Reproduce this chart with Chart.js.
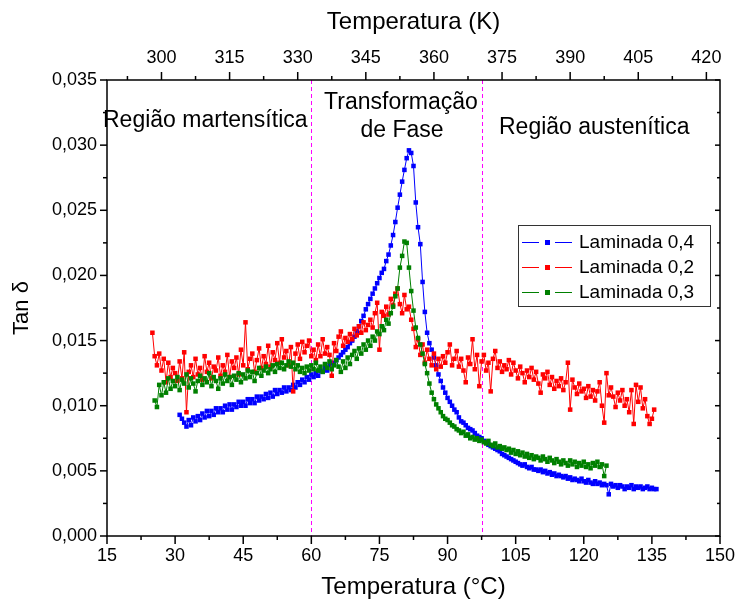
<!DOCTYPE html>
<html>
<head>
<meta charset="utf-8">
<script src="https://cdn.jsdelivr.net/npm/chart.js@4.4.1/dist/chart.umd.min.js"></script>
<style>
  html, body { margin: 0; padding: 0; background: #fff; }
  #wrap { width: 735px; height: 606px; }
</style>
</head>
<body>
<div id="wrap"><canvas id="chart"></canvas></div>
<script>
// temperature (°C) of each reading
const tempC = [
  25, 25.5, 26, 26.5, 27, 27.5, 28, 28.5, 29, 29.5,
  30, 30.5, 31, 31.5, 32, 32.5, 33, 33.5, 34, 34.5,
  35, 35.5, 36, 36.5, 37, 37.5, 38, 38.5, 39, 39.5,
  40, 40.5, 41, 41.5, 42, 42.5, 43, 43.5, 44, 44.5,
  45, 45.5, 46, 46.5, 47, 47.5, 48, 48.5, 49, 49.5,
  50, 50.5, 51, 51.5, 52, 52.5, 53, 53.5, 54, 54.5,
  55, 55.5, 56, 56.5, 57, 57.5, 58, 58.5, 59, 59.5,
  60, 60.5, 61, 61.5, 62, 62.5, 63, 63.5, 64, 64.5,
  65, 65.5, 66, 66.5, 67, 67.5, 68, 68.5, 69, 69.5,
  70, 70.5, 71, 71.5, 72, 72.5, 73, 73.5, 74, 74.5,
  75, 75.5, 76, 76.5, 77, 77.5, 78, 78.5, 79, 79.5,
  80, 80.5, 81, 81.5, 82, 82.5, 83, 83.5, 84, 84.5,
  85, 85.5, 86, 86.5, 87, 87.5, 88, 88.5, 89, 89.5,
  90, 90.5, 91, 91.5, 92, 92.5, 93, 93.5, 94, 94.5,
  95, 95.5, 96, 96.5, 97, 97.5, 98, 98.5, 99, 99.5,
  100, 100.5, 101, 101.5, 102, 102.5, 103, 103.5, 104, 104.5,
  105, 105.5, 106, 106.5, 107, 107.5, 108, 108.5, 109, 109.5,
  110, 110.5, 111, 111.5, 112, 112.5, 113, 113.5, 114, 114.5,
  115, 115.5, 116, 116.5, 117, 117.5, 118, 118.5, 119, 119.5,
  120, 120.5, 121, 121.5, 122, 122.5, 123, 123.5, 124, 124.5,
  125, 125.5, 126, 126.5, 127, 127.5, 128, 128.5, 129, 129.5,
  130, 130.5, 131, 131.5, 132, 132.5, 133, 133.5, 134, 134.5,
  135, 135.5, 136
];

// Laminada 0,4 (blue)
const tanL04 = [
  null, null, null, null, null, null, null, null, null, null,
  null, null, 0.0093, 0.0090, 0.0087, 0.0084, 0.0089, 0.0085, 0.0091, 0.0088,
  0.0092, 0.0089, 0.0094, 0.0091, 0.0096, 0.0092, 0.0096, 0.0093, 0.0098, 0.0095,
  0.0098, 0.0095, 0.0100, 0.0097, 0.0101, 0.0097, 0.0101, 0.0099, 0.0103, 0.0100,
  0.0103, 0.0100, 0.0105, 0.0102, 0.0105, 0.0102, 0.0107, 0.0104, 0.0107, 0.0105,
  0.0109, 0.0106, 0.0110, 0.0107, 0.0112, 0.0109, 0.0112, 0.0110, 0.0114, 0.0111,
  0.0114, 0.0112, 0.0116, 0.0114, 0.0118, 0.0116, 0.0120, 0.0118, 0.0122, 0.0120,
  0.0124, 0.0122, 0.0125, 0.0123, 0.0127, 0.0126, 0.0129, 0.0127, 0.0131, 0.0133,
  0.0132, 0.0135, 0.0137, 0.0139, 0.0141, 0.0143, 0.0145, 0.0148, 0.0150, 0.0153,
  0.0157, 0.0161, 0.0165, 0.0169, 0.0174, 0.0178, 0.0182, 0.0186, 0.0190, 0.0194,
  0.0198, 0.0202, 0.0205, 0.0211, 0.0216, 0.0223, 0.0231, 0.0241, 0.0252, 0.0262,
  0.0272, 0.0281, 0.0290, 0.0296, 0.0294, 0.0284, 0.0256, 0.0237, 0.0224, 0.0195,
  0.0172, 0.0156, 0.0148, 0.0143, 0.0137, 0.0131, 0.0124, 0.0119, 0.0114, 0.0110,
  0.0106, 0.0103, 0.0100, 0.0097, 0.0095, 0.0091, 0.0088, 0.0087, 0.0085, 0.0083,
  0.0082, 0.0081, 0.0079, 0.0077, 0.0076, 0.0075, 0.0073, 0.0072, 0.0070, 0.0069,
  0.0068, 0.0067, 0.0066, 0.0065, 0.0063, 0.0062, 0.0061, 0.0060, 0.0059, 0.0058,
  0.0057, 0.0056, 0.0055, 0.0054, 0.0055, 0.0053, 0.0052, 0.0053, 0.0051, 0.0051,
  0.0050, 0.0051, 0.0049, 0.0050, 0.0048, 0.0049, 0.0047, 0.0048, 0.0046, 0.0047,
  0.0046, 0.0045, 0.0046, 0.0044, 0.0045, 0.0043, 0.0044, 0.0043, 0.0042, 0.0044,
  0.0042, 0.0041, 0.0043, 0.0041, 0.0040, 0.0042, 0.0040, 0.0041, 0.0039, 0.0040,
  0.0039, 0.0032, 0.0040, 0.0038, 0.0039, 0.0037, 0.0039, 0.0038, 0.0036, 0.0038,
  0.0037, 0.0039, 0.0036, 0.0038, 0.0037, 0.0038, 0.0036, 0.0037, 0.0038, 0.0036,
  0.0037, 0.0036, 0.0036
];

// Laminada 0,2 (red)
const tanL02 = [
  0.0156, 0.0138, 0.0131, 0.0140, 0.0127, 0.0136, 0.0118, 0.0133, 0.0122, 0.0129,
  0.0125, 0.0119, 0.0134, 0.0121, 0.0141, 0.0095, 0.0126, 0.0131, 0.0122, 0.0136,
  0.0124, 0.0129, 0.0120, 0.0138, 0.0126, 0.0133, 0.0121, 0.0130, 0.0127, 0.0137,
  0.0123, 0.0131, 0.0126, 0.0139, 0.0122, 0.0134, 0.0129, 0.0137, 0.0124, 0.0143,
  0.0131, 0.0164, 0.0128, 0.0136, 0.0140, 0.0126, 0.0135, 0.0144, 0.0129, 0.0138,
  0.0132, 0.0146, 0.0130, 0.0141, 0.0135, 0.0148, 0.0133, 0.0151, 0.0137, 0.0142,
  0.0131, 0.0145, 0.0111, 0.0140, 0.0147, 0.0136, 0.0149, 0.0141, 0.0146, 0.0150,
  0.0138, 0.0143, 0.0135, 0.0147, 0.0138, 0.0151, 0.0140, 0.0145, 0.0139, 0.0123,
  0.0148, 0.0142, 0.0153, 0.0157, 0.0146, 0.0152, 0.0149, 0.0155, 0.0151, 0.0159,
  0.0154, 0.0161, 0.0156, 0.0164, 0.0158, 0.0162, 0.0166, 0.0160, 0.0171, 0.0179,
  0.0143, 0.0172, 0.0169, 0.0176, 0.0170, 0.0182, 0.0177, 0.0186, 0.0190, 0.0178,
  0.0171, 0.0185, 0.0174, 0.0176, 0.0166, 0.0159, 0.0145, 0.0151, 0.0139, 0.0147,
  0.0133, 0.0143, 0.0136, 0.0131, 0.0140, 0.0128, 0.0136, 0.0130, 0.0138, 0.0133,
  0.0141, 0.0147, 0.0131, 0.0136, 0.0142, 0.0130, 0.0136, 0.0127, 0.0118, 0.0137,
  0.0132, 0.0151, 0.0128, 0.0139, 0.0115, 0.0134, 0.0139, 0.0127, 0.0133, 0.0111,
  0.0136, 0.0142, 0.0129, 0.0134, 0.0126, 0.0131, 0.0128, 0.0135, 0.0124, 0.0133,
  0.0127, 0.0121, 0.0130, 0.0125, 0.0118, 0.0127, 0.0122, 0.0129, 0.0120, 0.0126,
  0.0117, 0.0110, 0.0124, 0.0121, 0.0126, 0.0116, 0.0122, 0.0113, 0.0119, 0.0115,
  0.0121, 0.0112, 0.0118, 0.0133, 0.0097, 0.0120, 0.0114, 0.0109, 0.0117, 0.0111,
  0.0113, 0.0106, 0.0115, 0.0107, 0.0112, 0.0104, 0.0111, 0.0118, 0.0100, 0.0087,
  0.0125, 0.0108, 0.0114, 0.0107, 0.0099, 0.0110, 0.0104, 0.0112, 0.0100, 0.0105,
  0.0095, 0.0112, 0.0086, 0.0116, 0.0103, 0.0114, 0.0098, 0.0105, 0.0092, 0.0086,
  0.0090, 0.0097, null
];

// Laminada 0,3 (green)
const tanL03 = [
  null, 0.0104, 0.0099, 0.0116, 0.0108, 0.0118, 0.0110, 0.0121, 0.0113, 0.0119,
  0.0115, 0.0122, 0.0112, 0.0120, 0.0117, 0.0124, 0.0114, 0.0121, 0.0117, 0.0111,
  0.0119, 0.0123, 0.0116, 0.0121, 0.0118, 0.0125, 0.0115, 0.0122, 0.0119, 0.0113,
  0.0121, 0.0117, 0.0124, 0.0119, 0.0122, 0.0116, 0.0123, 0.0120, 0.0125, 0.0118,
  0.0124, 0.0121, 0.0127, 0.0122, 0.0126, 0.0119, 0.0125, 0.0129, 0.0123, 0.0127,
  0.0130, 0.0125, 0.0128, 0.0131, 0.0126, 0.0132, 0.0129, 0.0133, 0.0128, 0.0131,
  0.0134, 0.0130, 0.0133, 0.0128, 0.0131, 0.0126, 0.0129, 0.0125, 0.0130, 0.0127,
  0.0131, 0.0128, 0.0133, 0.0127, 0.0130, 0.0126, 0.0132, 0.0129, 0.0134, 0.0128,
  0.0131, 0.0135, 0.0130, 0.0126, 0.0134, 0.0129, 0.0137, 0.0132, 0.0139, 0.0142,
  0.0136, 0.0144, 0.0140, 0.0147, 0.0143, 0.0150, 0.0146, 0.0153, 0.0150, 0.0157,
  0.0155, 0.0161, 0.0158, 0.0166, 0.0163, 0.0171, 0.0176, 0.0184, 0.0190, 0.0206,
  0.0215, 0.0226, 0.0225, 0.0206, 0.0188, 0.0173, 0.0160, 0.0152, 0.0147, 0.0140,
  0.0132, 0.0125, 0.0117, 0.0110, 0.0105, 0.0101, 0.0098, 0.0095, 0.0092, 0.0090,
  0.0089, 0.0087, 0.0085, 0.0084, 0.0082, 0.0081, 0.0079, 0.0080, 0.0077, 0.0078,
  0.0075, 0.0076, 0.0074, 0.0075, 0.0073, 0.0074, 0.0072, 0.0071, 0.0073, 0.0070,
  0.0069, 0.0071, 0.0068, 0.0069, 0.0067, 0.0068, 0.0066, 0.0067, 0.0064, 0.0066,
  0.0063, 0.0065, 0.0062, 0.0064, 0.0061, 0.0063, 0.0060, 0.0062, 0.0059, 0.0061,
  0.0060, 0.0058, 0.0061, 0.0059, 0.0057, 0.0060, 0.0058, 0.0056, 0.0059, 0.0057,
  0.0055, 0.0058, 0.0056, 0.0054, 0.0058, 0.0055, 0.0057, 0.0053, 0.0056, 0.0054,
  0.0057, 0.0053, 0.0055, 0.0052, 0.0056, 0.0054, 0.0057, 0.0053, 0.0055, 0.0046,
  0.0054, null, null, null, null, null, null, null, null, null,
  null, null, null, null, null, null, null, null, null, null,
  null, null, null
];

const tempTicksC = [15, 30, 45, 60, 75, 90, 105, 120, 135, 150];
const tempTicksK = [300, 315, 330, 345, 360, 375, 390, 405, 420];
const tanTicks = [0, 0.005, 0.010, 0.015, 0.020, 0.025, 0.030, 0.035];
const phaseLimitsC = [60, 97.5];
const kelvinOffset = 273;

const FONT = '"Liberation Sans", Arial, Helvetica, sans-serif';
Chart.defaults.font.family = FONT;
Chart.defaults.color = '#000';

const series = [
  { label: 'Laminada 0,4', values: tanL04, color: '#0000ff', order: 2 },
  { label: 'Laminada 0,2', values: tanL02, color: '#ff0000', order: 1 },
  { label: 'Laminada 0,3', values: tanL03, color: '#008000', order: 0 }
];

// keep the plot frame where the reference has it
const noOverflow = s => { s.paddingLeft = 0; s.paddingRight = 0; s.paddingTop = 0; s.paddingBottom = 0; };

const decor = {
  id: 'decor',
  beforeDatasetsDraw(chart) {
    const { ctx, chartArea: a, scales } = chart;
    ctx.save();
    ctx.strokeStyle = '#ff00ff';
    ctx.lineWidth = 1;
    ctx.setLineDash([4, 3]);
    phaseLimitsC.forEach(t => {
      const x = Math.round(scales.x.getPixelForValue(t)) + 0.5;
      ctx.beginPath();
      ctx.moveTo(x, a.top);
      ctx.lineTo(x, a.bottom);
      ctx.stroke();
    });
    ctx.restore();
  },
  afterDatasetsDraw(chart) {
    const { ctx, chartArea: a, scales } = chart;
    ctx.save();
    ctx.strokeStyle = '#000';
    ctx.lineWidth = 1.5;
    ctx.strokeRect(a.left, a.top, a.right - a.left, a.bottom - a.top);

    const hTick = (x, y0, y1) => { ctx.beginPath(); ctx.moveTo(x, y0); ctx.lineTo(x, y1); ctx.stroke(); };
    const vTick = (y, x0, x1) => { ctx.beginPath(); ctx.moveTo(x0, y); ctx.lineTo(x1, y); ctx.stroke(); };

    // bottom (°C)
    tempTicksC.forEach((t, i) => {
      const x = scales.x.getPixelForValue(t);
      hTick(x, a.bottom, a.bottom + 8);
      if (i < tempTicksC.length - 1) {
        hTick(scales.x.getPixelForValue((t + tempTicksC[i + 1]) / 2), a.bottom, a.bottom + 4);
      }
    });
    // top (K)
    tempTicksK.forEach((k, i) => {
      hTick(scales.x2.getPixelForValue(k), a.top, a.top - 8);
      if (i === 0) hTick(scales.x2.getPixelForValue(k - 7.5), a.top, a.top - 4);
      if (i < tempTicksK.length - 1) {
        hTick(scales.x2.getPixelForValue((k + tempTicksK[i + 1]) / 2), a.top, a.top - 4);
      }
    });
    // left and right
    tanTicks.forEach((v, i) => {
      const y = scales.y.getPixelForValue(v);
      vTick(y, a.left, a.left - 7);
      vTick(y, a.right, a.right - 5);
      if (i < tanTicks.length - 1) {
        const ym = scales.y.getPixelForValue((v + tanTicks[i + 1]) / 2);
        vTick(ym, a.left, a.left - 4);
        vTick(ym, a.right, a.right - 3);
      }
    });
    ctx.restore();
  },
  afterDraw(chart) {
    const { ctx } = chart;
    ctx.save();
    ctx.fillStyle = '#000';
    ctx.textBaseline = 'middle';
    ctx.font = '23px ' + FONT;
    ctx.textAlign = 'left';
    ctx.fillText('Região martensítica', 103, 121);
    ctx.fillText('Região austenítica', 499, 128);
    ctx.textAlign = 'center';
    ctx.fillText('Transformação', 401, 103);
    ctx.fillText('de Fase', 402, 131);

    // legend
    const bx = 518, by = 225, bw = 192, bh = 81;
    ctx.fillStyle = '#fff';
    ctx.fillRect(bx, by, bw, bh);
    ctx.strokeStyle = '#333';
    ctx.lineWidth = 1;
    ctx.strokeRect(bx + 0.5, by + 0.5, bw, bh);
    ctx.font = '19px ' + FONT;
    ctx.textAlign = 'left';
    series.forEach((s, i) => {
      const y = by + 17 + i * 25;
      ctx.strokeStyle = s.color;
      ctx.beginPath();
      ctx.moveTo(bx + 4, y + 0.5); ctx.lineTo(bx + 21, y + 0.5);
      ctx.moveTo(bx + 37, y + 0.5); ctx.lineTo(bx + 54, y + 0.5);
      ctx.stroke();
      ctx.fillStyle = s.color;
      ctx.fillRect(bx + 27, y - 2, 5, 5);
      ctx.fillStyle = '#000';
      ctx.fillText(s.label, bx + 61, y + 1);
    });
    ctx.restore();
  }
};

new Chart(document.getElementById('chart').getContext('2d'), {
  type: 'line',
  data: {
    datasets: series.map(s => ({
      label: s.label,
      data: tempC.map((t, i) => ({ x: t, y: s.values[i] })),
      order: s.order,
      borderColor: s.color,
      backgroundColor: s.color,
      borderWidth: 1,
      pointStyle: 'rect',
      pointRadius: 3.2,
      pointBorderWidth: 0,
      pointBackgroundColor: s.color,
      tension: 0,
      xAxisID: 'x',
      yAxisID: 'y'
    }))
  },
  options: {
    responsive: true,
    maintainAspectRatio: false,
    animation: false,
    layout: { padding: { left: 0, right: 15, top: 0, bottom: 0 } },
    plugins: { legend: { display: false }, tooltip: { enabled: false } },
    scales: {
      x: {
        type: 'linear',
        position: 'bottom',
        min: 15,
        max: 150,
        afterBuildTicks: s => { s.ticks = tempTicksC.map(v => ({ value: v })); },
        afterFit: s => { s.height = 70; noOverflow(s); },
        grid: { display: false, drawTicks: false },
        border: { display: false },
        ticks: { padding: 9, font: { size: 18 }, maxRotation: 0, autoSkip: false, callback: v => String(v) },
        title: { display: true, text: 'Temperatura (°C)', font: { size: 24 }, padding: { top: 0, bottom: 4 } }
      },
      x2: {
        type: 'linear',
        axis: 'x',
        position: 'top',
        min: 15 + kelvinOffset,
        max: 150 + kelvinOffset,
        afterBuildTicks: s => { s.ticks = tempTicksK.map(v => ({ value: v })); },
        afterFit: s => { s.height = 80; noOverflow(s); },
        grid: { display: false, drawTicks: false },
        border: { display: false },
        ticks: { padding: 11, font: { size: 18 }, maxRotation: 0, autoSkip: false, callback: v => String(v) },
        title: { display: true, text: 'Temperatura (K)', font: { size: 24 }, padding: { top: 8, bottom: 0 } }
      },
      y: {
        type: 'linear',
        position: 'left',
        min: 0,
        max: 0.035,
        afterBuildTicks: s => { s.ticks = tanTicks.map(v => ({ value: v })); },
        afterFit: s => { s.width = 107; noOverflow(s); },
        grid: { display: false, drawTicks: false },
        border: { display: false },
        ticks: { padding: 10, font: { size: 18 }, autoSkip: false, callback: v => v.toFixed(3).replace('.', ',') },
        title: { display: true, text: 'Tan δ', font: { size: 22 }, padding: { top: 9, bottom: 0 } }
      }
    }
  },
  plugins: [decor]
});
</script>
</body>
</html>
